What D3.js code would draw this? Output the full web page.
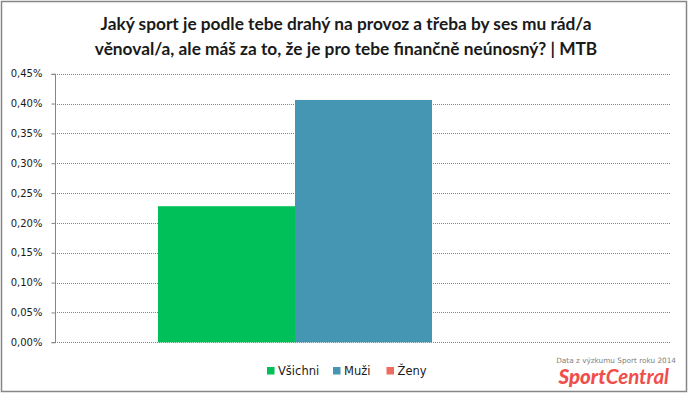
<!DOCTYPE html>
<html>
<head>
<meta charset="utf-8">
<script src="https://cdn.jsdelivr.net/npm/d3@7"></script>
<style>
  body { margin: 0; background: #fff; }
  text { font-family: Lato, "Open Sans", sans-serif; }
</style>
</head>
<body>
<svg id="chart" width="688" height="393"></svg>
<script>
// data
var titleLines = ["Jaký sport je podle tebe drahý na provoz a třeba by ses mu rád/a",
                  "věnoval/a, ale máš za to, že je pro tebe finančně neúnosný? | MTB"];
var series = ["Všichni", "Muži", "Ženy"];
var values = [0.00228, 0.00406, 0];
var colors = ["#00c05a", "#4496b3", "#ee6b60"];
var yTicks = [0, 0.0005, 0.001, 0.0015, 0.002, 0.0025, 0.003, 0.0035, 0.004, 0.0045];

var svg = d3.select("#chart"),
    width = +svg.attr("width"),
    height = +svg.attr("height");

var plot = {left: 55, right: 670, top: 73.7, bottom: 342.3};

// frame
svg.append("rect")
  .attr("x", 1.5).attr("y", 1.5)
  .attr("width", width - 3).attr("height", height - 3)
  .attr("fill", "#fff").attr("stroke", "#868686").attr("stroke-width", 1.5);

// title
svg.append("g").selectAll("text")
  .data(titleLines)
  .enter().append("text")
    .attr("x", width / 2 + 2)
    .attr("y", function(d, i) { return 30 + i * 25; })
    .attr("text-anchor", "middle")
    .style("font-size", "17.3px")
    .style("font-weight", "bold")
    .style("fill", "#1a1a1a")
    .text(function(d) { return d; });

var y = d3.scaleLinear().domain([0, 0.0045]).range([plot.bottom, plot.top]);
// the three series share one category slot
var groupW = 411, groupX = (plot.left + plot.right) / 2 + 1 - groupW / 2;
var xs = d3.scaleBand().domain(series).range([groupX, groupX + groupW]);

// gridlines
svg.append("g").selectAll("line")
  .data(yTicks)
  .enter().append("line")
    .attr("x1", plot.left).attr("x2", plot.right)
    .attr("y1", function(d) { return Math.round(y(d)) + 0.5; })
    .attr("y2", function(d) { return Math.round(y(d)) + 0.5; })
    .attr("stroke", "#868686").attr("stroke-dasharray", "1,1");

// bars
svg.append("g").selectAll("rect")
  .data(values)
  .enter().append("rect")
    .attr("x", function(d, i) { return xs(series[i]); })
    .attr("width", xs.bandwidth())
    .attr("y", function(d) { return y(d); })
    .attr("height", function(d) { return plot.bottom - y(d); })
    .attr("fill", function(d, i) { return colors[i]; });

// y axis
var yAxis = svg.append("g")
  .attr("transform", "translate(" + (plot.left + 0.5) + ",0)")
  .call(d3.axisLeft(y).tickValues(yTicks).tickSize(4).tickPadding(9)
    .tickFormat(function(d) { return d3.format(".2%")(d).replace(".", ","); }));
yAxis.select(".domain").attr("stroke", "#868686").attr("d", "M-4," + (Math.round(plot.top) + 0.5) + "H0V" + (Math.round(plot.bottom) + 0.5) + "H-4");
yAxis.selectAll(".tick line").attr("stroke", "#868686");
yAxis.selectAll(".tick text")
  .style("font-family", "'DejaVu Sans', sans-serif")
  .style("font-size", "10px").style("fill", "#1a1a1a");

// legend
var legendX = [267, 333, 386.5];
var legend = svg.append("g").selectAll("g")
  .data(series)
  .enter().append("g")
    .attr("transform", function(d, i) { return "translate(" + legendX[i] + ",367)"; });
legend.append("rect").attr("width", 7.5).attr("height", 7.5)
  .attr("fill", function(d, i) { return colors[i]; });
legend.append("text").attr("x", 11).attr("y", 8)
  .style("font-family", "'DejaVu Sans', sans-serif")
  .style("font-size", "11.5px").style("fill", "#1a1a1a")
  .text(function(d) { return d; });

// source + logo
svg.append("text").attr("x", 676).attr("y", 363).attr("text-anchor", "end")
  .style("font-family", "'DejaVu Sans', sans-serif")
  .style("font-size", "7.3px").style("fill", "#7f7f7f")
  .text("Data z výzkumu Sport roku 2014");
var logo = svg.append("text").attr("x", 669).attr("y", 384).attr("text-anchor", "end")
  .style("font-size", "20.5px").style("font-style", "italic").style("fill", "#f04e4b");
logo.append("tspan").style("font-weight", "900").text("Sport");
logo.append("tspan").style("font-weight", "bold").text("Central");
</script>
</body>
</html>
